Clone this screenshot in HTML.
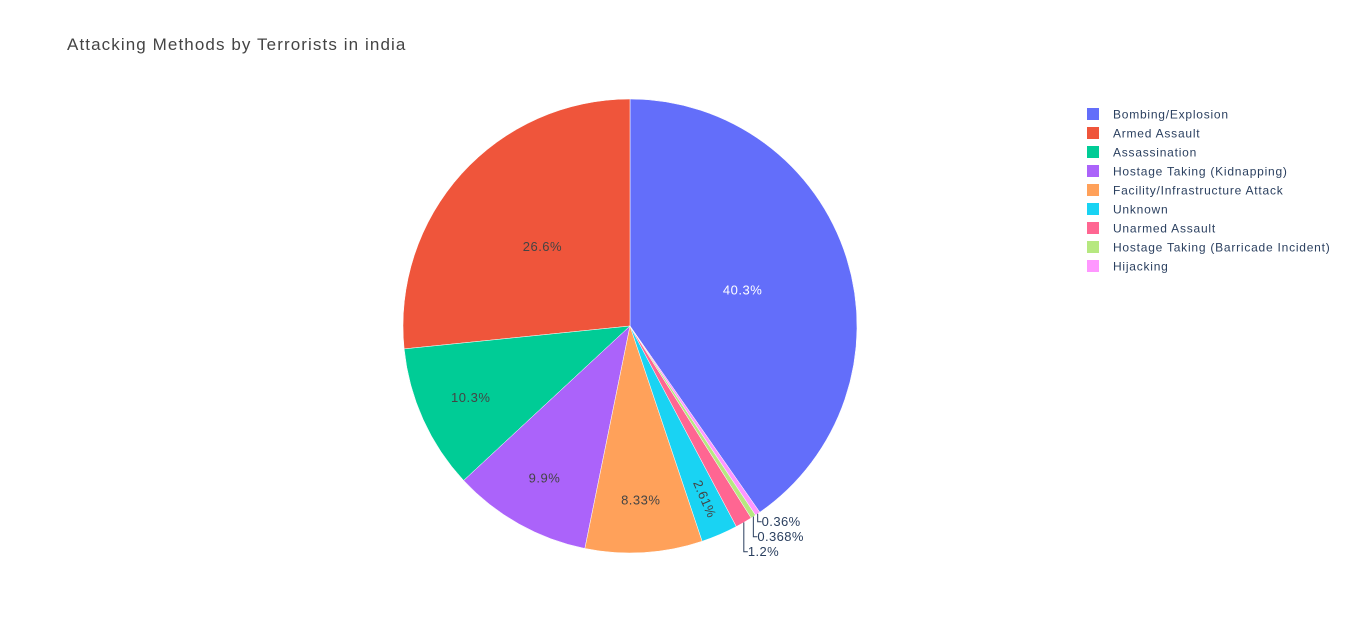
<!DOCTYPE html>
<html><head><meta charset="utf-8"><style>
body{margin:0;background:#fff;width:1348px;height:633px;overflow:hidden;font-family:"Liberation Sans",sans-serif}
</style></head><body>
<svg id="chart" width="1348" height="633">
<text x="67" y="50" font-size="17" letter-spacing="1.1" fill="#444">Attacking Methods by Terrorists in india</text>
<g id="slices"></g><g id="labels"></g><g id="legend"></g>
</svg>
<script>
const categories=["Bombing/Explosion","Armed Assault","Assassination","Hostage Taking (Kidnapping)","Facility/Infrastructure Attack","Unknown","Unarmed Assault","Hostage Taking (Barricade Incident)","Hijacking"];
const values=[40.3,26.6,10.3,9.9,8.33,2.61,1.2,0.368,0.36];
const labelsText=["40.3%","26.6%","10.3%","9.9%","8.33%","2.61%","1.2%","0.368%","0.36%"];
const colors=["#636efa","#EF553B","#00cc96","#ab63fa","#FFA15A","#19d3f3","#FF6692","#B6E880","#FF97FF"];
const NS="http://www.w3.org/2000/svg";
const cx=630,cy=326,R=227;
const total=values.reduce((a,b)=>a+b,0);
function pt(th,r){const a=th*Math.PI/180;return [cx+r*Math.sin(a),cy-r*Math.cos(a)];}
const sg=document.getElementById('slices'),lg=document.getElementById('labels'),leg=document.getElementById('legend');
let start=360*values[0]/total;
const outs=[];
values.forEach((v,i)=>{
  const sweep=360*v/total;const end=start-sweep;
  const p1=pt(start,R),p2=pt(end,R);
  const path=document.createElementNS(NS,'path');
  path.setAttribute('d',`M${cx},${cy}L${p1[0]},${p1[1]}A${R},${R} 0 ${sweep>180?1:0} 0 ${p2[0]},${p2[1]}Z`);
  path.setAttribute('fill',colors[i]);path.setAttribute('stroke','#fff');path.setAttribute('stroke-width','0.5');
  
  
  sg.appendChild(path);
  const mid=(start+end)/2;
  const pct=100*v/total;
  if(pct>=2){
    const f=pct>20?0.52:(pct>5?0.77:0.83);
    const p=pt(mid,R*f);
    const t=document.createElementNS(NS,'text');
    t.setAttribute('x',p[0]);t.setAttribute('y',p[1]+4);t.setAttribute('text-anchor','middle');
    t.setAttribute('font-size','13');t.setAttribute('letter-spacing','0.5');t.setAttribute('fill',i===0?'#fff':'#444');
    if(pct<5){let rot=((mid%360)+360)%360-90;t.setAttribute('transform',`rotate(${rot} ${p[0]} ${p[1]})`);}
    t.textContent=labelsText[i];
    
    
    lg.appendChild(t);
  } else {
    outs.push({i,e:pt(mid,R)});
  }
  start=end;
});
outs.sort((a,b)=>a.e[1]-b.e[1]);
let prev=-1e9;
outs.forEach(o=>{
  const ly=Math.max(o.e[1]+8,prev+15);prev=ly;
  const pl=document.createElementNS(NS,'polyline');
  pl.setAttribute('points',`${o.e[0]},${o.e[1]} ${o.e[0]},${ly} ${o.e[0]+4},${ly}`);
  pl.setAttribute('fill','none');pl.setAttribute('stroke','#2a3f5f');pl.setAttribute('stroke-width','1');
  
  
  lg.appendChild(pl);
  const t=document.createElementNS(NS,'text');
  t.setAttribute('x',o.e[0]+4);t.setAttribute('y',ly+4.5);t.setAttribute('font-size','13');t.setAttribute('letter-spacing','0.4');t.setAttribute('fill','#2a3f5f');
  t.textContent=labelsText[o.i];
  
  
  lg.appendChild(t);
});
categories.forEach((c,i)=>{
  const y=114+19*i;
  const g=document.createElementNS(NS,'g');
  
  
  const r=document.createElementNS(NS,'rect');
  r.setAttribute('x',1087);r.setAttribute('y',y-6);r.setAttribute('width',12);r.setAttribute('height',12);r.setAttribute('fill',colors[i]);
  
  
  const t=document.createElementNS(NS,'text');
  t.setAttribute('x',1113);t.setAttribute('y',y+4.5);t.setAttribute('font-size','12');t.setAttribute('letter-spacing','0.77');t.setAttribute('fill','#2a3f5f');
  t.textContent=c;
  
  
  g.appendChild(r);g.appendChild(t);leg.appendChild(g);
});
</script>
</body></html>
